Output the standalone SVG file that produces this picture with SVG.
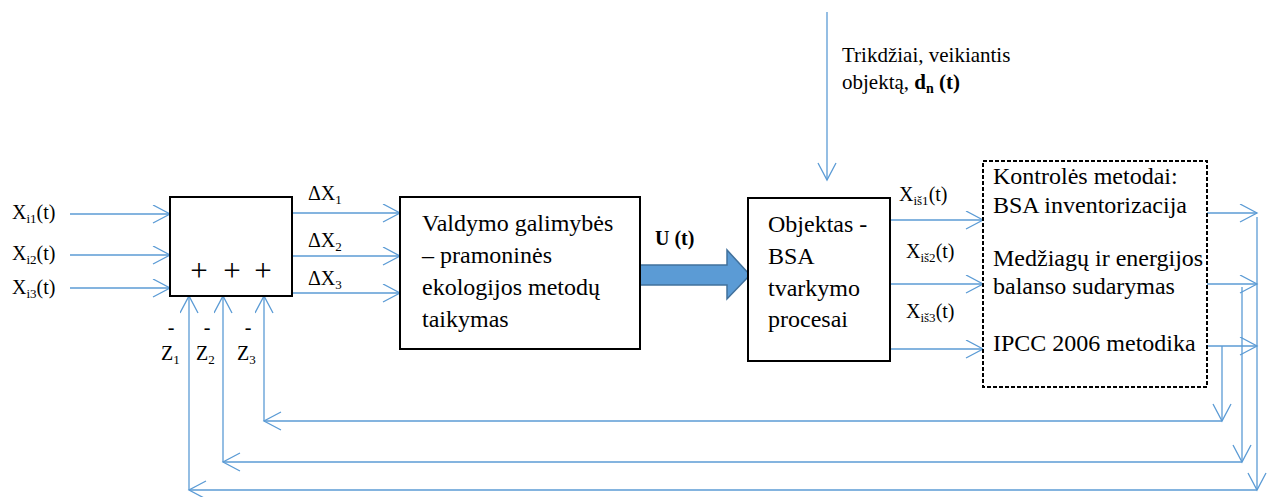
<svg xmlns="http://www.w3.org/2000/svg" width="1275" height="497" viewBox="0 0 1275 497" font-family="'Liberation Serif', 'DejaVu Serif', serif">
<style>
text{font-family:"Liberation Serif","DejaVu Serif",serif;fill:#000}
.box{fill:#fff;stroke:#000;stroke-width:2}
.dash{fill:#fff;stroke:#000;stroke-width:2;stroke-dasharray:4 2}
.ln{fill:none;stroke:#5B9BD5;stroke-width:1.3}
.a{marker-end:url(#ah)}
.t24{font-size:24px}
.t20{font-size:20px}
.sub{font-size:13px}
.plus{font-size:31px}
</style>
<defs>
<marker id="ah" markerUnits="userSpaceOnUse" markerWidth="20" markerHeight="20" viewBox="0 0 20 20" refX="18" refY="9.5" orient="auto">
<path d="M1,0.5 L18,9.5 L1,18.5" fill="none" stroke="#5B9BD5" stroke-width="1.3"/>
</marker>
</defs>
<g id="connectors">
<line class="ln a" x1="70" y1="214" x2="170" y2="214"/>
<line class="ln a" x1="70" y1="255" x2="170" y2="255"/>
<line class="ln a" x1="70" y1="288" x2="170" y2="288"/>
<line class="ln a" x1="292" y1="213" x2="400" y2="213"/>
<line class="ln a" x1="292" y1="256" x2="400" y2="256"/>
<line class="ln a" x1="292" y1="293" x2="400" y2="293"/>
<line class="ln a" x1="827" y1="12" x2="827" y2="180"/>
<line class="ln a" x1="890" y1="220" x2="983" y2="220"/>
<line class="ln a" x1="890" y1="284" x2="983" y2="284"/>
<line class="ln a" x1="890" y1="349" x2="983" y2="349"/>
<line class="ln a" x1="1207" y1="213" x2="1257" y2="213"/>
<line class="ln a" x1="1207" y1="284" x2="1257" y2="284"/>
<line class="ln a" x1="1207" y1="346" x2="1257" y2="346"/>
<line class="ln a" x1="1257" y1="217" x2="1257" y2="490"/>
<line class="ln a" x1="1242" y1="287" x2="1242" y2="462"/>
<line class="ln a" x1="1222" y1="346" x2="1222" y2="421"/>
<line class="ln a" x1="1257" y1="490" x2="189" y2="490"/>
<line class="ln a" x1="1242" y1="462" x2="223" y2="462"/>
<line class="ln a" x1="1222" y1="421" x2="264" y2="421"/>
<line class="ln a" x1="189" y1="490" x2="189" y2="296"/>
<line class="ln a" x1="223" y1="462" x2="223" y2="296"/>
<line class="ln a" x1="264" y1="421" x2="264" y2="296"/>
<path d="M640,265 H727 V250 L750,275 L727,299 V285 H640 Z" fill="#5B9BD5" stroke="#41719C" stroke-width="1.5"/>
</g>
<g id="inputs">
<text class="t20" x="12" y="219">X<tspan class="sub" dy="4">i1</tspan><tspan dy="-4">(t)</tspan></text>
<text class="t20" x="12" y="260">X<tspan class="sub" dy="4">i2</tspan><tspan dy="-4">(t)</tspan></text>
<text class="t20" x="12" y="294">X<tspan class="sub" dy="4">i3</tspan><tspan dy="-4">(t)</tspan></text>
</g>
<g id="sum">
<rect class="box" x="170" y="197" width="122" height="99"/>
<text class="plus" x="199" y="281" text-anchor="middle">+</text>
<text class="plus" x="232" y="281" text-anchor="middle">+</text>
<text class="plus" x="263" y="281" text-anchor="middle">+</text>
<text class="t20" x="171" y="334" text-anchor="middle">-</text>
<text class="t20" x="207" y="334" text-anchor="middle">-</text>
<text class="t20" x="248" y="334" text-anchor="middle">-</text>
<text class="t20" x="161" y="360">Z<tspan class="sub" dy="4">1</tspan></text>
<text class="t20" x="196" y="360">Z<tspan class="sub" dy="4">2</tspan></text>
<text class="t20" x="237" y="360">Z<tspan class="sub" dy="4">3</tspan></text>
<text class="t20" x="308" y="200">ΔX<tspan class="sub" dy="4">1</tspan></text>
<text class="t20" x="308" y="247">ΔX<tspan class="sub" dy="4">2</tspan></text>
<text class="t20" x="308" y="285">ΔX<tspan class="sub" dy="4">3</tspan></text>
</g>
<g id="control">
<rect class="box" x="400" y="197" width="240" height="152"/>
<text class="t24" x="422" y="231">Valdymo galimybės</text>
<text class="t24" x="422" y="263">– pramoninės</text>
<text class="t24" x="422" y="295">ekologijos metodų</text>
<text class="t24" x="422" y="327">taikymas</text>
<text class="t20" x="655" y="245" font-weight="bold">U (t)</text>
</g>
<g id="disturbance">
<text x="842" y="62" font-size="21">Trikdžiai, veikiantis</text>
<text x="842" y="89" font-size="21">objektą, <tspan font-weight="bold">d</tspan><tspan font-weight="bold" font-size="14" dy="4">n</tspan><tspan font-weight="bold" dy="-4"> (t)</tspan></text>
</g>
<g id="object">
<rect class="box" x="748" y="198" width="142" height="163"/>
<text class="t24" x="768" y="232">Objektas  -</text>
<text class="t24" x="768" y="264">BSA</text>
<text class="t24" x="768" y="296">tvarkymo</text>
<text class="t24" x="768" y="327">procesai</text>
<text class="t20" x="899" y="201">X<tspan class="sub" dy="4">iš1</tspan><tspan dy="-4">(t)</tspan></text>
<text class="t20" x="906" y="258">X<tspan class="sub" dy="4">iš2</tspan><tspan dy="-4">(t)</tspan></text>
<text class="t20" x="906" y="318">X<tspan class="sub" dy="4">iš3</tspan><tspan dy="-4">(t)</tspan></text>
</g>
<g id="methods">
<rect class="dash" x="983" y="161" width="224" height="226"/>
<text class="t24" x="993" y="184">Kontrolės metodai:</text>
<text class="t24" x="993" y="213">BSA inventorizacija</text>
<text class="t24" x="993" y="266">Medžiagų ir energijos</text>
<text class="t24" x="993" y="294">balanso sudarymas</text>
<text class="t24" x="993" y="351">IPCC 2006 metodika</text>
</g>
</svg>
